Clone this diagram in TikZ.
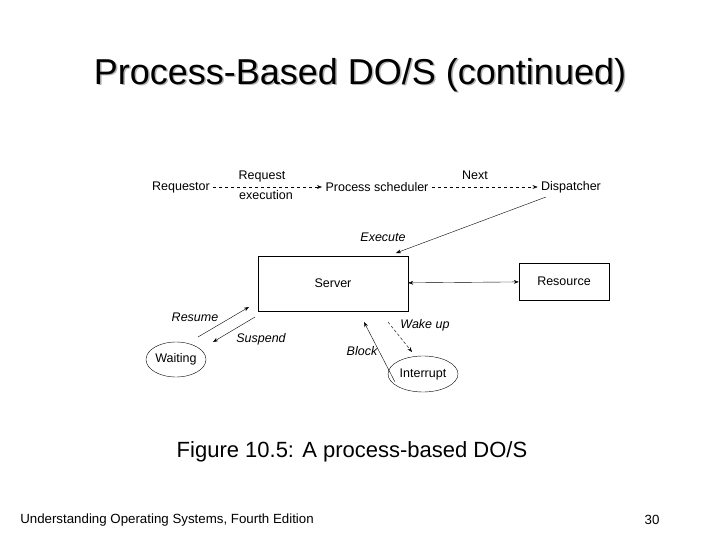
\documentclass[tikz,border=0pt]{standalone}
\usepackage{fontspec}
\setmainfont{Liberation Sans}
\usetikzlibrary{arrows.meta,shapes.geometric}
\tikzset{
		% styles for the DO/S figure
		plain box/.style={rectangle,draw,thin},
		state node/.style={ellipse,draw,thin,minimum width=60pt,minimum height=35pt,inner sep=0},
		flow arrow/.style={-{Stealth[length=5pt]},thin},
		soft arrow/.style={-{Stealth[length=5pt]},thin,dashed},
		small text/.style={font=\fontsize{12.5}{13}\selectfont},
		tag text/.style={font=\fontsize{12.5}{13}\selectfont\itshape}
	}
\begin{document}
\begin{tikzpicture}[x=1pt,y=-1pt,every node/.style={small text}]
		\useasboundingbox (0,0) rectangle (720,540);
		\node [font=\fontsize{36}{38}\selectfont,text=gray!60] (shadow) at (361.5,76.5) {Process-Based DO/S (continued)};
		\node [font=\fontsize{36}{38}\selectfont] (title) at (360,75) {Process-Based DO/S (continued)};
		\node (req) at (181,187) {Requestor};
		\node (sched) at (377,187) {Process scheduler};
		\node (disp) at (571,187) {Dispatcher};
		\node (reqlab) at (262,176) {Request};
		\node (execlab) at (266,195) {execution};
		\node (nextlab) at (475,175) {Next};
		\draw [soft arrow] (req) -- (sched);
		\draw [soft arrow] (sched) -- (disp);
		\node [plain box,minimum width=150pt,minimum height=55pt] (server) at (333,283.5) {Server};
		\node [plain box,minimum width=90pt,minimum height=37pt] (res) at (564,281.5) {Resource};
		\draw [{Stealth[length=5pt]}-{Stealth[length=5pt]},thin] (server) -- (res);
		\coordinate (dfoot) at (546,197);
		\coordinate (stop) at (396,253);
		\node [tag text] (execute) at (383,237) {Execute};
		\draw [flow arrow] (dfoot) -- (stop);
		\node [state node] (wait) at (176,359.5) {Waiting};
		\node [state node,minimum width=70pt,minimum height=36pt] (intr) at (423,374) {Interrupt};
		\coordinate (wa) at (198,337);
		\coordinate (sa) at (249,307);
		\coordinate (sb) at (255,317);
		\coordinate (wb) at (213,342);
		\draw [flow arrow] (wa) -- (sa);
		\draw [flow arrow] (sb) -- (wb);
		\node [tag text] (resume) at (195,317) {Resume};
		\node [tag text] (suspend) at (261,339) {Suspend};
		\coordinate (ia) at (395,382);
		\coordinate (sc) at (364,322);
		\coordinate (sd) at (388,322);
		\coordinate (ib) at (412,352);
		\draw [flow arrow] (ia) -- (sc);
		\draw [flow arrow,densely dashed] (sd) -- (ib);
		\node [tag text] (wake) at (425,325) {Wake up};
		\node [tag text] (block) at (362,351) {Block};
		\node [font=\fontsize{22}{24}\selectfont] (caption) at (352,452) {Figure 10.5: A process-based DO/S};
		\node [font=\fontsize{13.3}{14}\selectfont] (foot) at (167,520) {Understanding Operating Systems, Fourth Edition};
		\node [font=\fontsize{13.3}{14}\selectfont] (page) at (652,520) {30};
	\end{tikzpicture}
\end{document}
